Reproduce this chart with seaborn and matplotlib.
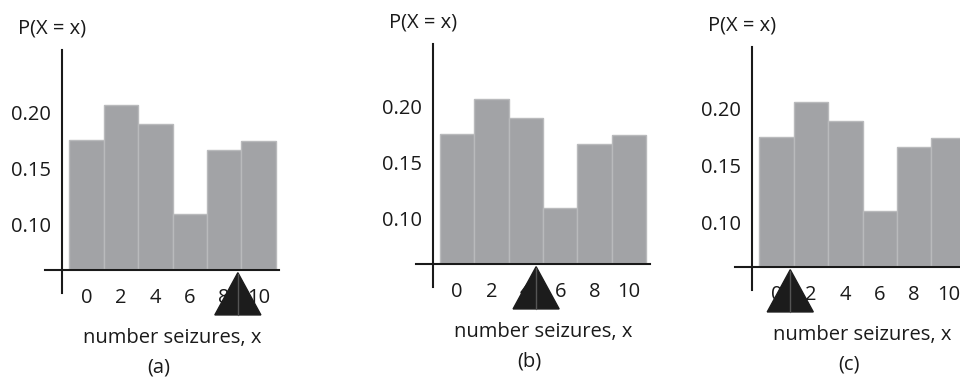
import matplotlib
matplotlib.use("Agg")
import matplotlib.pyplot as plt
import seaborn as sns
import pandas as pd

# data
seizures = [0, 2, 4, 6, 8, 10]
probs = [0.175, 0.206, 0.189, 0.110, 0.166, 0.174]
fulcrum = [8.8, 4.6, 0.8]          # where the triangle sits in (a), (b), (c)
panel_names = ["(a)", "(b)", "(c)"]
y_ticks = [0.10, 0.15, 0.20]
baseline = 0.06

sns.set_style("white")
plt.rcParams["font.family"] = ["Open Sans", "DejaVu Sans"]
fs = 14.5

df = pd.DataFrame({"x": seizures, "p": probs})

fig = plt.figure(figsize=(9.6, 3.83), dpi=100)
W, H = 960.0, 383.0

# axes placed in pixels: (left px, bottom px) for data window x:[-3,13], y:[0.02,0.27]
panel_pos = [(34.9, 67.6), (405.4, 73.6), (724.9, 70.6)]
ax_w = 16 * 17.2
ax_h = 0.25 * 1130

for i, (lx, by) in enumerate(panel_pos):
    ax = fig.add_axes([lx / W, by / H, ax_w / W, ax_h / H])
    sns.barplot(data=df, x="x", y="p", native_scale=True, width=1.0,
                color="#a2a3a6", saturation=1, edgecolor="#b9babc",
                linewidth=1, ax=ax)
    # bars start from the axis line, not from zero
    for bar in ax.patches:
        h = bar.get_height()
        bar.set_y(baseline + 0.0015)
        bar.set_height(h - baseline - 0.0015)

    ax.set_xlim(-3, 13)
    ax.set_ylim(0.02, 0.27)
    ax.patch.set_alpha(0)

    for s in ["top", "right"]:
        ax.spines[s].set_visible(False)
    ax.spines["left"].set_position(("data", -1.4))
    ax.spines["bottom"].set_position(("data", baseline))
    ax.spines["left"].set_bounds(0.04, 0.255)
    ax.spines["bottom"].set_bounds(-2.4, 11.2)
    for s in ["left", "bottom"]:
        ax.spines[s].set_linewidth(1.5)
        ax.spines[s].set_color("#1a1a1a")

    ax.set_xticks(seizures)
    ax.set_xticklabels([str(v) for v in seizures])
    ax.set_yticks(y_ticks)
    ax.set_yticklabels([f"{v:.2f}" for v in y_ticks])
    ax.tick_params(axis="both", direction="inout", length=12, width=1.3,
                   color="#1a1a1a", labelsize=fs, labelcolor="#1a1a1a")
    ax.tick_params(axis="x", pad=7)
    ax.tick_params(axis="y", pad=2)
    ax.set_xlabel("")
    ax.set_ylabel("")

    ax.text(-2.0, 0.274, "P(X = x)", ha="center", va="center", fontsize=fs,
            color="#1a1a1a", clip_on=False)
    ax.text(5.0, 0.0, "number seizures, x", ha="center", va="center",
            fontsize=fs, color="#1a1a1a", clip_on=False)
    ax.text(4.2, -0.026, panel_names[i], ha="center", va="center",
            fontsize=fs, color="#1a1a1a", clip_on=False)

    # balance point triangle
    cx = fulcrum[i]
    ax.fill([cx - 1.34, cx, cx + 1.34], [0.0204, 0.0578, 0.0204],
            color="#1c1c1c", zorder=5, clip_on=False)
    ax.plot([cx, cx], [0.0204, 0.057], color="#555555", lw=1, zorder=6,
            clip_on=False)

fig.savefig("out.png", dpi=100)
